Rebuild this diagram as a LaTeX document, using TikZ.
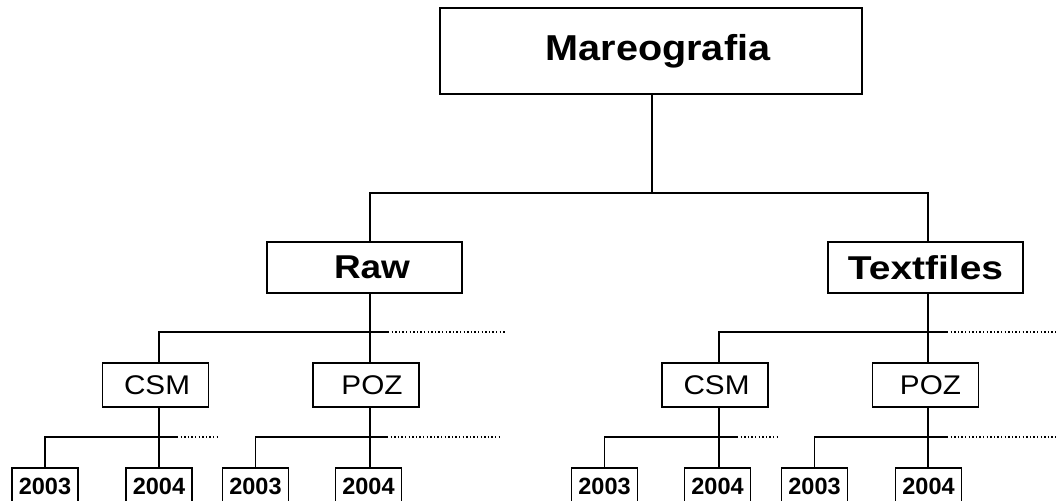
\documentclass[tikz,border=0pt]{standalone}
\usepackage{graphicx}
\usepackage{fontspec}
\setmainfont{Liberation Sans}
\begin{document}
\begin{tikzpicture}[x=1pt,y=-1pt,
 box/.style={draw, line width=1.4pt, inner sep=0pt, fill=white},
 lvlzero/.style={box, minimum width=422pt, minimum height=86pt, font=\fontsize{36}{36}\selectfont\bfseries},
 lvlone/.style={box, minimum width=195pt, minimum height=51pt, font=\fontsize{33}{33}\selectfont\bfseries},
 lvltwo/.style={box, minimum width=106pt, minimum height=44pt, font=\fontsize{27}{27}\selectfont},
 yr/.style={box, minimum width=66pt, minimum height=40pt, font=\fontsize{23.5}{23.5}\selectfont\bfseries},
 conn/.style={line width=1.4pt},
 more/.style={line width=1.4pt, dash pattern=on 1.4pt off 2.2pt}]
\clip (0,0) rectangle (1056,500);
\fill[white] (0,0) rectangle (1056,500);

% junction coordinates
\coordinate (b0) at (652,193);
\coordinate (rx) at (370,332);
\coordinate (tx) at (928,332);
\coordinate (rcx) at (159,437);
\coordinate (rpx) at (370,437);
\coordinate (tcx) at (719,437);
\coordinate (tpx) at (928,437);
\coordinate (rb1) at (388,332);  \coordinate (rb2) at (505,332);
\coordinate (tb1) at (947,332);  \coordinate (tb2) at (1056,332);
\coordinate (rc1) at (177,437);  \coordinate (rc2) at (220,437);
\coordinate (rp1) at (387,437);  \coordinate (rp2) at (500,437);
\coordinate (tc1) at (737,437);  \coordinate (tc2) at (778,437);
\coordinate (tp1) at (947,437);  \coordinate (tp2) at (1056,437);

% nodes
\node[lvlzero] (mar) at (651,51) {\hspace*{14pt}\scalebox{1.1}[1]{Mareografia}};
\node[lvlone] (raw) at (364.5,267.5) {\hspace*{15pt}\scalebox{1.12}[1]{Raw}};
\node[lvlone] (tf) at (925.5,267.5) {\scalebox{1.18}[1]{Textfiles}};
\node[lvltwo] (rcsm) at (155.5,385) {\hspace*{3pt}\scalebox{1.1}[1]{CSM}};
\node[lvltwo] (rpoz) at (366,385) {\hspace*{12pt}\scalebox{1.1}[1]{POZ}};
\node[lvltwo] (tcsm) at (715,385) {\hspace*{3pt}\scalebox{1.1}[1]{CSM}};
\node[lvltwo] (tpoz) at (925.5,385) {\hspace*{10pt}\scalebox{1.1}[1]{POZ}};
\node[yr] (rc03) at (45,488) {\raisebox{3pt}{2003}};
\node[yr] (rc04) at (159,488) {\raisebox{3pt}{2004}};
\node[yr] (rp03) at (255.5,488) {\raisebox{3pt}{2003}};
\node[yr] (rp04) at (368.5,488) {\raisebox{3pt}{2004}};
\node[yr] (tc03) at (604.5,488) {\raisebox{3pt}{2003}};
\node[yr] (tc04) at (717.5,488) {\raisebox{3pt}{2004}};
\node[yr] (tp03) at (814.5,488) {\raisebox{3pt}{2003}};
\node[yr] (tp04) at (928.5,488) {\raisebox{3pt}{2004}};

% level 0 -> 1
\draw[conn] (mar.south -| b0) -- (b0);
\draw[conn] (raw.north -| rx) |- (b0) -| (tf.north -| tx);

% Raw subtree
\draw[conn] (raw.south -| rx) -- (rpoz.north -| rx);
\draw[conn] (rcsm.north -| rcx) |- (rb1);
\draw[more] (rb1) -- (rb2);
\draw[conn] (rcsm.south -| rcx) -- (rc04.north -| rcx);
\draw[conn] (rc03.north) |- (rc1);
\draw[more] (rc1) -- (rc2);
\draw[conn] (rpoz.south -| rpx) -- (rp04.north -| rpx);
\draw[conn] (rp03.north) |- (rp1);
\draw[more] (rp1) -- (rp2);

% Textfiles subtree
\draw[conn] (tf.south -| tx) -- (tpoz.north -| tx);
\draw[conn] (tcsm.north -| tcx) |- (tb1);
\draw[more] (tb1) -- (tb2);
\draw[conn] (tcsm.south -| tcx) -- (tc04.north -| tcx);
\draw[conn] (tc03.north) |- (tc1);
\draw[more] (tc1) -- (tc2);
\draw[conn] (tpoz.south -| tpx) -- (tp04.north -| tpx);
\draw[conn] (tp03.north) |- (tp1);
\draw[more] (tp1) -- (tp2);
\end{tikzpicture}
\end{document}
